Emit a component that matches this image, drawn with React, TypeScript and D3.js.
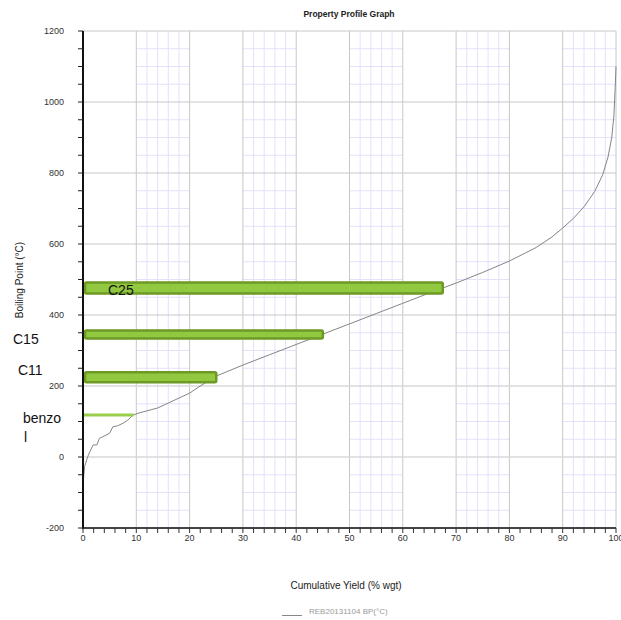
import React, { useEffect, useRef } from "react";
import * as d3 from "d3";

// Boiling point curve (yield % wgt -> BP °C)
const yieldPct = [0, 0.1, 0.3, 0.7, 1.0, 1.3, 1.9, 2.6, 3.1, 3.7, 5.0, 5.6, 6.5, 7.5, 8.4, 9.4, 10.5, 12, 14, 16, 18, 20, 22, 25, 30, 35, 40, 45, 50, 55, 60, 65, 67.5, 70, 75, 80, 85, 88, 90, 92, 94, 96, 97.5, 98.5, 99.2, 99.6, 99.85, 100];
const boilingPoint = [-98, -60, -27, -8, 5, 15, 34, 34, 53, 57, 67, 85, 88, 95, 104, 118, 124, 130, 138, 152, 166, 180, 200, 228, 259, 288, 317, 346, 375, 404, 433, 462, 476, 490, 520, 552, 590, 620, 645, 672, 705, 748, 795, 845, 900, 960, 1040, 1100];

// Cuts marked on the graph
const cutNames = ["C25", "C15", "C11"];
const cutYield = [67.5, 45, 25];
const cutBP = [476, 345, 225];
const benzolYield = 9.5;
const benzolBP = 118;

const xTicks = [0, 10, 20, 30, 40, 50, 60, 70, 80, 90, 100];
const yTicks = [-200, 0, 200, 400, 600, 800, 1000, 1200];
const legendLabel = "REB20131104  BP(°C)";

const App = () => {
  const chartRef = useRef(null);

  useEffect(() => {
    draw();
  }, []);

  const draw = () => {
    const width = 621;
    const height = 620;
    const font = "'Liberation Sans', Arial, sans-serif";

    d3.select(chartRef.current).select("svg").remove();

    const svg = d3
      .select(chartRef.current)
      .append("svg")
      .attr("width", width)
      .attr("height", height)
      .style("position", "absolute")
      .style("left", 0)
      .style("top", 0)
      .style("background", "#fff");

    const x = d3.scaleLinear().domain([0, 100]).range([83, 616]);
    const y = d3.scaleLinear().domain([-200, 1200]).range([528, 31]);

    const grid = svg.append("g");

    // minor grid only in the odd decades (10-20, 30-40, ...)
    d3.range(10, 100, 20).forEach((start) => {
      d3.range(start + 2, start + 10, 2).forEach((v) => {
        grid
          .append("line")
          .attr("x1", x(v))
          .attr("x2", x(v))
          .attr("y1", y(1200))
          .attr("y2", y(-200))
          .attr("stroke", "#e2e2fa")
          .attr("stroke-width", 1);
      });
      d3.range(-150, 1200, 50)
        .filter((v) => v % 200 !== 0)
        .forEach((v) => {
          grid
            .append("line")
            .attr("x1", x(start))
            .attr("x2", x(start + 10))
            .attr("y1", y(v))
            .attr("y2", y(v))
            .attr("stroke", "#e2e2fa")
            .attr("stroke-width", 1);
        });
    });

    // major grid
    grid
      .selectAll(".vmajor")
      .data(xTicks.slice(1))
      .enter()
      .append("line")
      .attr("x1", (d) => x(d))
      .attr("x2", (d) => x(d))
      .attr("y1", y(1200))
      .attr("y2", y(-200))
      .attr("stroke", "#c8c8c8")
      .attr("stroke-width", 1);

    grid
      .selectAll(".hmajor")
      .data(yTicks.slice(1))
      .enter()
      .append("line")
      .attr("x1", x(0))
      .attr("x2", x(100))
      .attr("y1", (d) => y(d))
      .attr("y2", (d) => y(d))
      .attr("stroke", (d) => (d === 0 || d === 200 ? "#d8d8d8" : "#c8c8c8"))
      .attr("stroke-width", (d) => (d === 0 || d === 200 ? 1.6 : 1));

    // curve
    const line = d3
      .line()
      .x((d) => x(d[0]))
      .y((d) => y(d[1]));

    svg
      .append("path")
      .datum(yieldPct.map((v, i) => [v, boilingPoint[i]]))
      .attr("d", line)
      .attr("fill", "none")
      .attr("stroke", "#858585")
      .attr("stroke-width", 1);

    // benzol line
    svg
      .append("line")
      .attr("x1", x(0) - 1)
      .attr("x2", x(benzolYield))
      .attr("y1", y(benzolBP))
      .attr("y2", y(benzolBP))
      .attr("stroke", "#9acd4a")
      .attr("stroke-width", 3);

    // cut bars
    const barH = { C25: 11, C15: 8, C11: 10 };
    cutNames.forEach((name, i) => {
      const h = barH[name];
      svg
        .append("rect")
        .attr("x", x(0) + 2)
        .attr("y", y(cutBP[i]) - h / 2)
        .attr("width", x(cutYield[i]) - x(0) - 2)
        .attr("height", h)
        .attr("rx", 1.5)
        .attr("fill", "#92c840")
        .attr("stroke", "#6c9a24")
        .attr("stroke-width", 2.5);
    });

    // axes
    svg
      .append("line")
      .attr("x1", x(0))
      .attr("x2", x(100))
      .attr("y1", y(-200))
      .attr("y2", y(-200))
      .attr("stroke", "#444")
      .attr("stroke-width", 2);

    svg
      .append("line")
      .attr("x1", x(0))
      .attr("x2", x(0))
      .attr("y1", y(1200))
      .attr("y2", y(-200) + 1)
      .attr("stroke", "#111")
      .attr("stroke-width", 2);

    svg
      .selectAll(".xtick")
      .data(d3.range(0, 101, 2))
      .enter()
      .append("line")
      .attr("x1", (d) => x(d))
      .attr("x2", (d) => x(d))
      .attr("y1", y(-200))
      .attr("y2", y(-200) + 5)
      .attr("stroke", "#333")
      .attr("stroke-width", 1);

    svg
      .selectAll(".ytick")
      .data(d3.range(-200, 1201, 50))
      .enter()
      .append("line")
      .attr("x1", x(0) - 5)
      .attr("x2", x(0))
      .attr("y1", (d) => y(d))
      .attr("y2", (d) => y(d))
      .attr("stroke", "#222")
      .attr("stroke-width", 1);

    svg
      .selectAll(".xlabel")
      .data(xTicks)
      .enter()
      .append("text")
      .attr("x", (d) => x(d))
      .attr("y", y(-200) + 13)
      .attr("text-anchor", "middle")
      .style("font-family", font)
      .style("font-size", "9px")
      .attr("fill", "#333")
      .text((d) => d);

    svg
      .selectAll(".ylabel")
      .data(yTicks)
      .enter()
      .append("text")
      .attr("x", 64)
      .attr("y", (d) => y(d) + 3)
      .attr("text-anchor", "end")
      .style("font-family", font)
      .style("font-size", "9px")
      .attr("fill", "#333")
      .text((d) => d);

    // titles
    svg
      .append("text")
      .attr("x", 349)
      .attr("y", 17)
      .attr("text-anchor", "middle")
      .style("font-family", font)
      .style("font-size", "8.5px")
      .style("font-weight", "bold")
      .attr("fill", "#222")
      .text("Property Profile Graph");

    svg
      .append("text")
      .attr("x", 346)
      .attr("y", 589)
      .attr("text-anchor", "middle")
      .style("font-family", font)
      .style("font-size", "10px")
      .attr("fill", "#222")
      .text("Cumulative Yield (% wgt)");

    svg
      .append("text")
      .attr("transform", "translate(23,280) rotate(-90)")
      .attr("text-anchor", "middle")
      .style("font-family", font)
      .style("font-size", "10px")
      .attr("fill", "#222")
      .text("Boiling Point (°C)");

    // legend
    svg
      .append("line")
      .attr("x1", 282)
      .attr("x2", 302)
      .attr("y1", 615.5)
      .attr("y2", 615.5)
      .attr("stroke", "#888")
      .attr("stroke-width", 1);

    svg
      .append("text")
      .attr("x", 309)
      .attr("y", 614)
      .style("font-family", font)
      .style("font-size", "8px")
      .attr("fill", "#999")
      .text(legendLabel);

    // cut labels
    const labels = [
      { t: "C25", x: 108, y: 295 },
      { t: "C15", x: 13, y: 344 },
      { t: "C11", x: 18, y: 375 },
      { t: "benzo", x: 23, y: 423 },
      { t: "l", x: 24, y: 442 },
    ];
    svg
      .selectAll(".cut")
      .data(labels)
      .enter()
      .append("text")
      .attr("x", (d) => d.x)
      .attr("y", (d) => d.y)
      .style("font-family", font)
      .style("font-size", "14px")
      .attr("fill", "#111")
      .text((d) => d.t);
  };

  return <div ref={chartRef}></div>;
};

export default App;
